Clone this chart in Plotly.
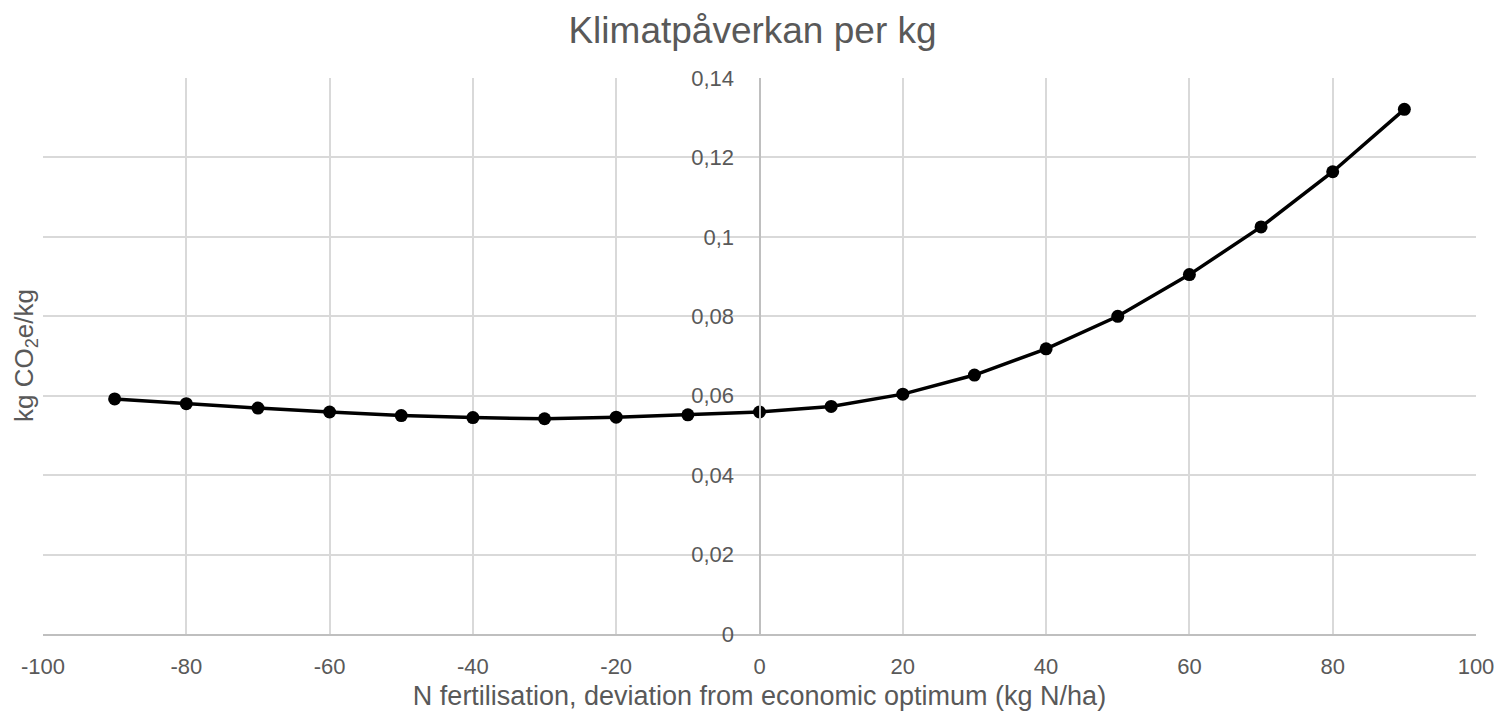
import plotly.graph_objects as go

# Data
n_dev = [-90, -80, -70, -60, -50, -40, -30, -20, -10, 0, 10, 20, 30, 40, 50, 60, 70, 80, 90]
co2_per_kg = [0.0592, 0.0580, 0.0569, 0.0559, 0.0550, 0.0545, 0.0542, 0.0546, 0.0552, 0.0559,
              0.0573, 0.0604, 0.0652, 0.0718, 0.0800, 0.0905, 0.1025, 0.1164, 0.1321]

x_tickvals = [-100, -80, -60, -40, -20, 0, 20, 40, 60, 80, 100]
x_ticktext = ["-100", "-80", "-60", "-40", "-20", "0", "20", "40", "60", "80", "100"]
y_tickvals = [0, 0.02, 0.04, 0.06, 0.08, 0.10, 0.12, 0.14]
y_ticktext = ["0", "0,02", "0,04", "0,06", "0,08", "0,1", "0,12", "0,14"]

title_text = "Klimatpåverkan per kg"
x_title = "N fertilisation, deviation from economic optimum (kg N/ha)"
y_title = "kg CO<sub>2</sub>e/kg"

TXT = "#595959"
GRID = "#d9d9d9"
AXIS = "#bfbfbf"
FONT = "Liberation Sans, Arial, sans-serif"

fig = go.Figure()
fig.add_trace(go.Scatter(
    x=n_dev, y=co2_per_kg, mode="lines+markers",
    line=dict(color="black", width=3.5),
    marker=dict(color="black", size=13),
    showlegend=False, hoverinfo="x+y",
))

fig.update_layout(
    width=1505, height=718,
    margin=dict(l=43, r=29, t=78, b=84),
    paper_bgcolor="white", plot_bgcolor="white",
    font=dict(family=FONT, color=TXT, size=21),
    title=dict(text=title_text, x=0.5, xanchor="center", y=0.958, yanchor="middle",
               font=dict(size=37, color=TXT, family=FONT)),
    xaxis=dict(
        range=[-100, 100], tickvals=x_tickvals, ticktext=x_ticktext,
        showgrid=True, gridcolor=GRID, gridwidth=2,
        showline=True, linecolor=AXIS, linewidth=2,
        zeroline=False, ticks="", ticklabelstandoff=12,
        tickfont=dict(size=22, color=TXT),
        title=dict(text=x_title, font=dict(size=27, color=TXT), standoff=8),
        domain=[0, 1],
    ),
    yaxis=dict(
        range=[0, 0.14], tickvals=y_tickvals, ticktext=y_ticktext,
        showgrid=True, gridcolor=GRID, gridwidth=2,
        showline=True, linecolor=AXIS, linewidth=2,
        zeroline=False, ticks="", anchor="free", position=0.5,
        ticklabelstandoff=20,
        tickfont=dict(size=22, color=TXT),
    ),
    annotations=[dict(
        text=y_title, xref="paper", yref="paper", x=-18 / 1433, y=0.5,
        xanchor="center", yanchor="middle", textangle=-90, showarrow=False,
        font=dict(size=26, color=TXT, family=FONT),
    )],
)

fig.write_html("out.html")
